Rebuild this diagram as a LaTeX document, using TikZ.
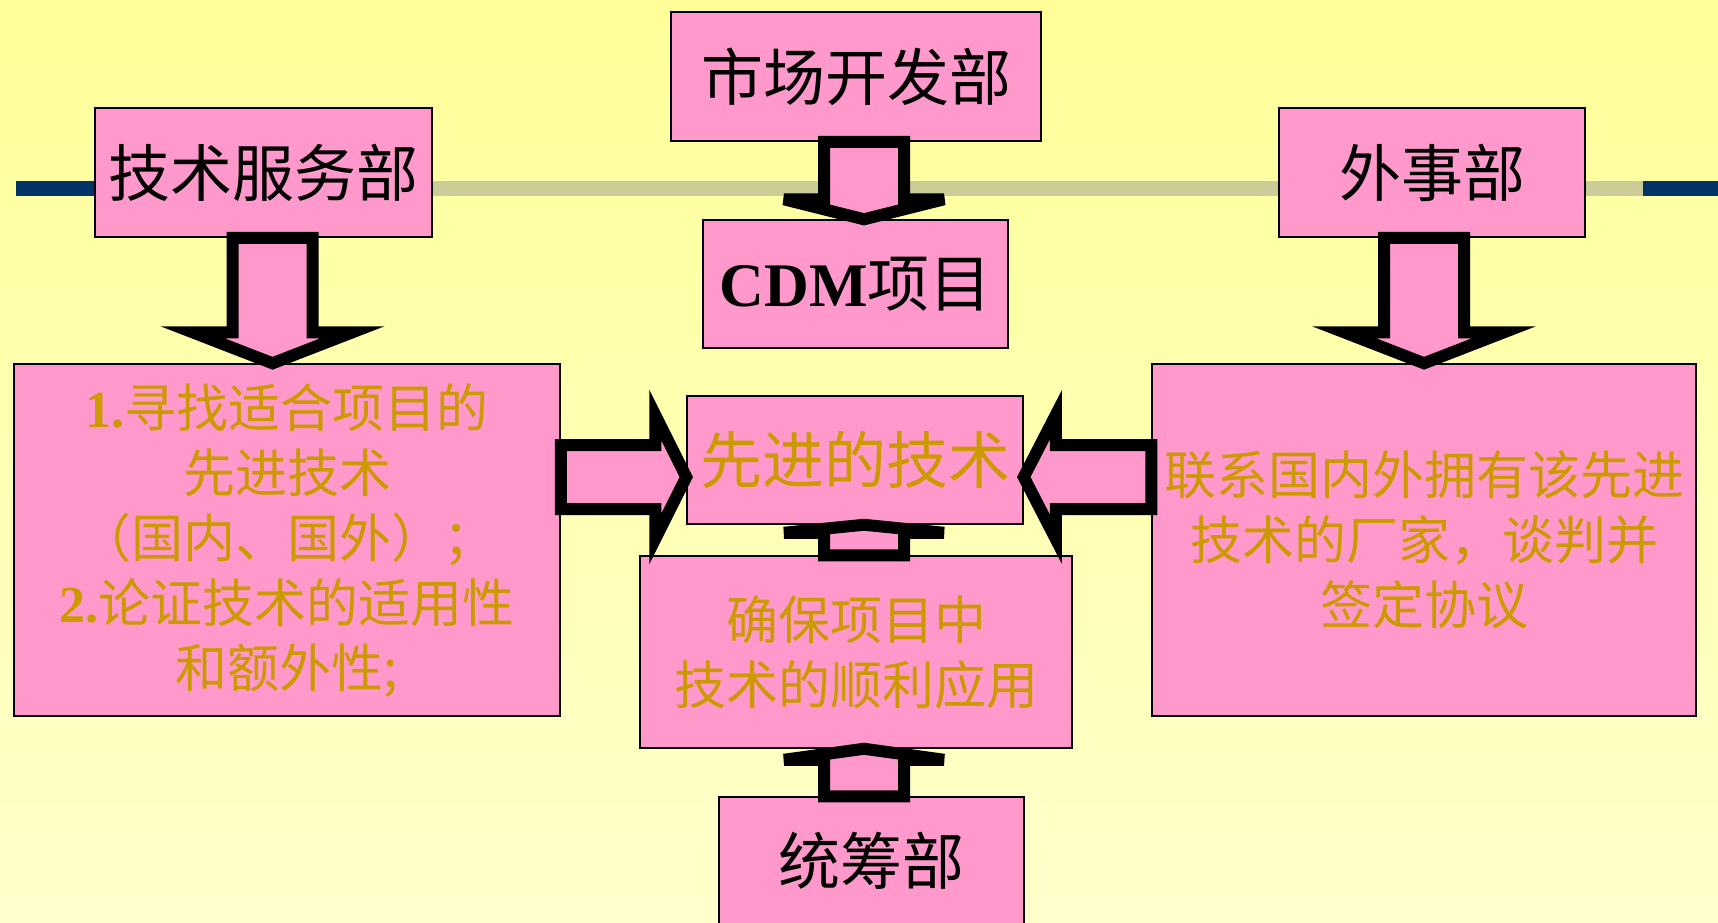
\documentclass[tikz,border=0pt]{standalone}
\usepackage{fontspec}
\setmainfont{Liberation Serif}
\newfontfamily\cjk{Noto Sans CJK SC}
\usetikzlibrary{calc,positioning}

\definecolor{bgtop}{RGB}{255,255,153}
\definecolor{bgbot}{RGB}{255,255,204}
\definecolor{boxpink}{RGB}{255,153,204}
\definecolor{gold}{RGB}{204,153,0}
\definecolor{barblue}{RGB}{0,51,102}
\definecolor{bargrey}{RGB}{204,204,153}
\newcommand{\lnum}[1]{{\rmfamily\bfseries #1}}

% hollow block arrow: half shaft, half head, head length
\tikzset{
  fat/.style n args={3}{draw=black,fill=boxpink,line width=12pt,miter limit=6,
    to path={($(\tikztostart)!#1!90:(\tikztotarget)$)
      -- ($($(\tikztotarget)!#3!(\tikztostart)$)!#1!90:(\tikztotarget)$)
      -- ($($(\tikztotarget)!#3!(\tikztostart)$)!#2!90:(\tikztotarget)$)
      -- (\tikztotarget)
      -- ($($(\tikztotarget)!#3!(\tikztostart)$)!#2!-90:(\tikztotarget)$)
      -- ($($(\tikztotarget)!#3!(\tikztostart)$)!#1!-90:(\tikztotarget)$)
      -- ($(\tikztostart)!#1!-90:(\tikztotarget)$) -- cycle}}
}

\begin{document}
\begin{tikzpicture}[x=1pt,y=-1pt]
  \tikzstyle{dept}=[draw=black,line width=1.5pt,fill=boxpink,inner sep=0pt,
                    minimum height=129pt,font=\cjk\fontsize{62}{70}\selectfont]
  \tikzstyle{task}=[dept,text=gold,align=center,font=\cjk\fontsize{52}{65}\selectfont]

  \useasboundingbox (0,0) rectangle (1718,922);
  \shade[top color=bgtop,bottom color=bgbot] (0,0) rectangle (1718,922);
  % the title bar
  \fill[bargrey] (95,181) rectangle (1643,196);
  \fill[barblue] (16,181) rectangle (95,196);
  \fill[barblue] (1643,181) rectangle (1718,196);

  \node[dept,minimum width=370pt] (Mkt)  at (856,76.5)   {市场开发部};
  \node[dept,minimum width=337pt] (Tech) at (263.5,172.5) {技术服务部};
  \node[dept,minimum width=306pt] (Ext)  at (1432,172.5)  {外事部};
  \node[dept,minimum width=305pt,minimum height=128pt] (CDM) at (855.5,284) {\lnum{CDM}项目};
  \node[task,minimum width=546pt,minimum height=352pt] (Find) at (287,540)
       {\lnum{1.}寻找适合项目的\\先进技术\\（国内、国外）；\\\lnum{2.}论证技术的适用性\\和额外性;};
  \node[task,minimum width=336pt,minimum height=128pt,
        font=\cjk\fontsize{62}{70}\selectfont] (Adv) at (855,460) {先进的技术};
  \node[task,minimum width=544pt,minimum height=352pt] (Deal) at (1424,540)
       {联系国内外拥有该先进\\技术的厂家，谈判并\\签定协议};
  \node[task,minimum width=432pt,minimum height=192pt] (Use) at (856,652)
       {确保项目中\\技术的顺利应用};
  \node[dept,minimum width=305pt,minimum height=128pt] (Plan) at (871.5,861) {统筹部};

  \coordinate (a1) at ($(Tech.south)+(9,0)$);
  \coordinate (a2) at (Deal.north |- Ext.south);
  \coordinate (a3) at ($(Mkt.south)+(8,0)$);
  \coordinate (a4) at ($(Find.east)+(0,-63)$);
  \coordinate (a5) at ($(Deal.west)+(0,-63)$);
  \coordinate (a6) at ($(Use.north)+(8,0)$);
  \coordinate (a7) at ($(Use.south |- Plan.north)+(8,0)$);

  \path (a1) edge[fat={40pt}{80pt}{31pt}] (a1 |- Find.north)
        (a2) edge[fat={40pt}{80pt}{31pt}] (Deal.north)
        (a3) edge[fat={40pt}{80pt}{20pt}] (a3 |- CDM.north)
        (a4) edge[fat={32pt}{62pt}{31pt}] (a4 -| Adv.west)
        (a5) edge[fat={32pt}{62pt}{32pt}] (a5 -| Adv.east)
        (a6) edge[fat={40pt}{80pt}{8pt}]  (a6 |- Adv.south)
        (a7) edge[fat={40pt}{80pt}{11pt}] (a7 |- Use.south);
\end{tikzpicture}
\end{document}
